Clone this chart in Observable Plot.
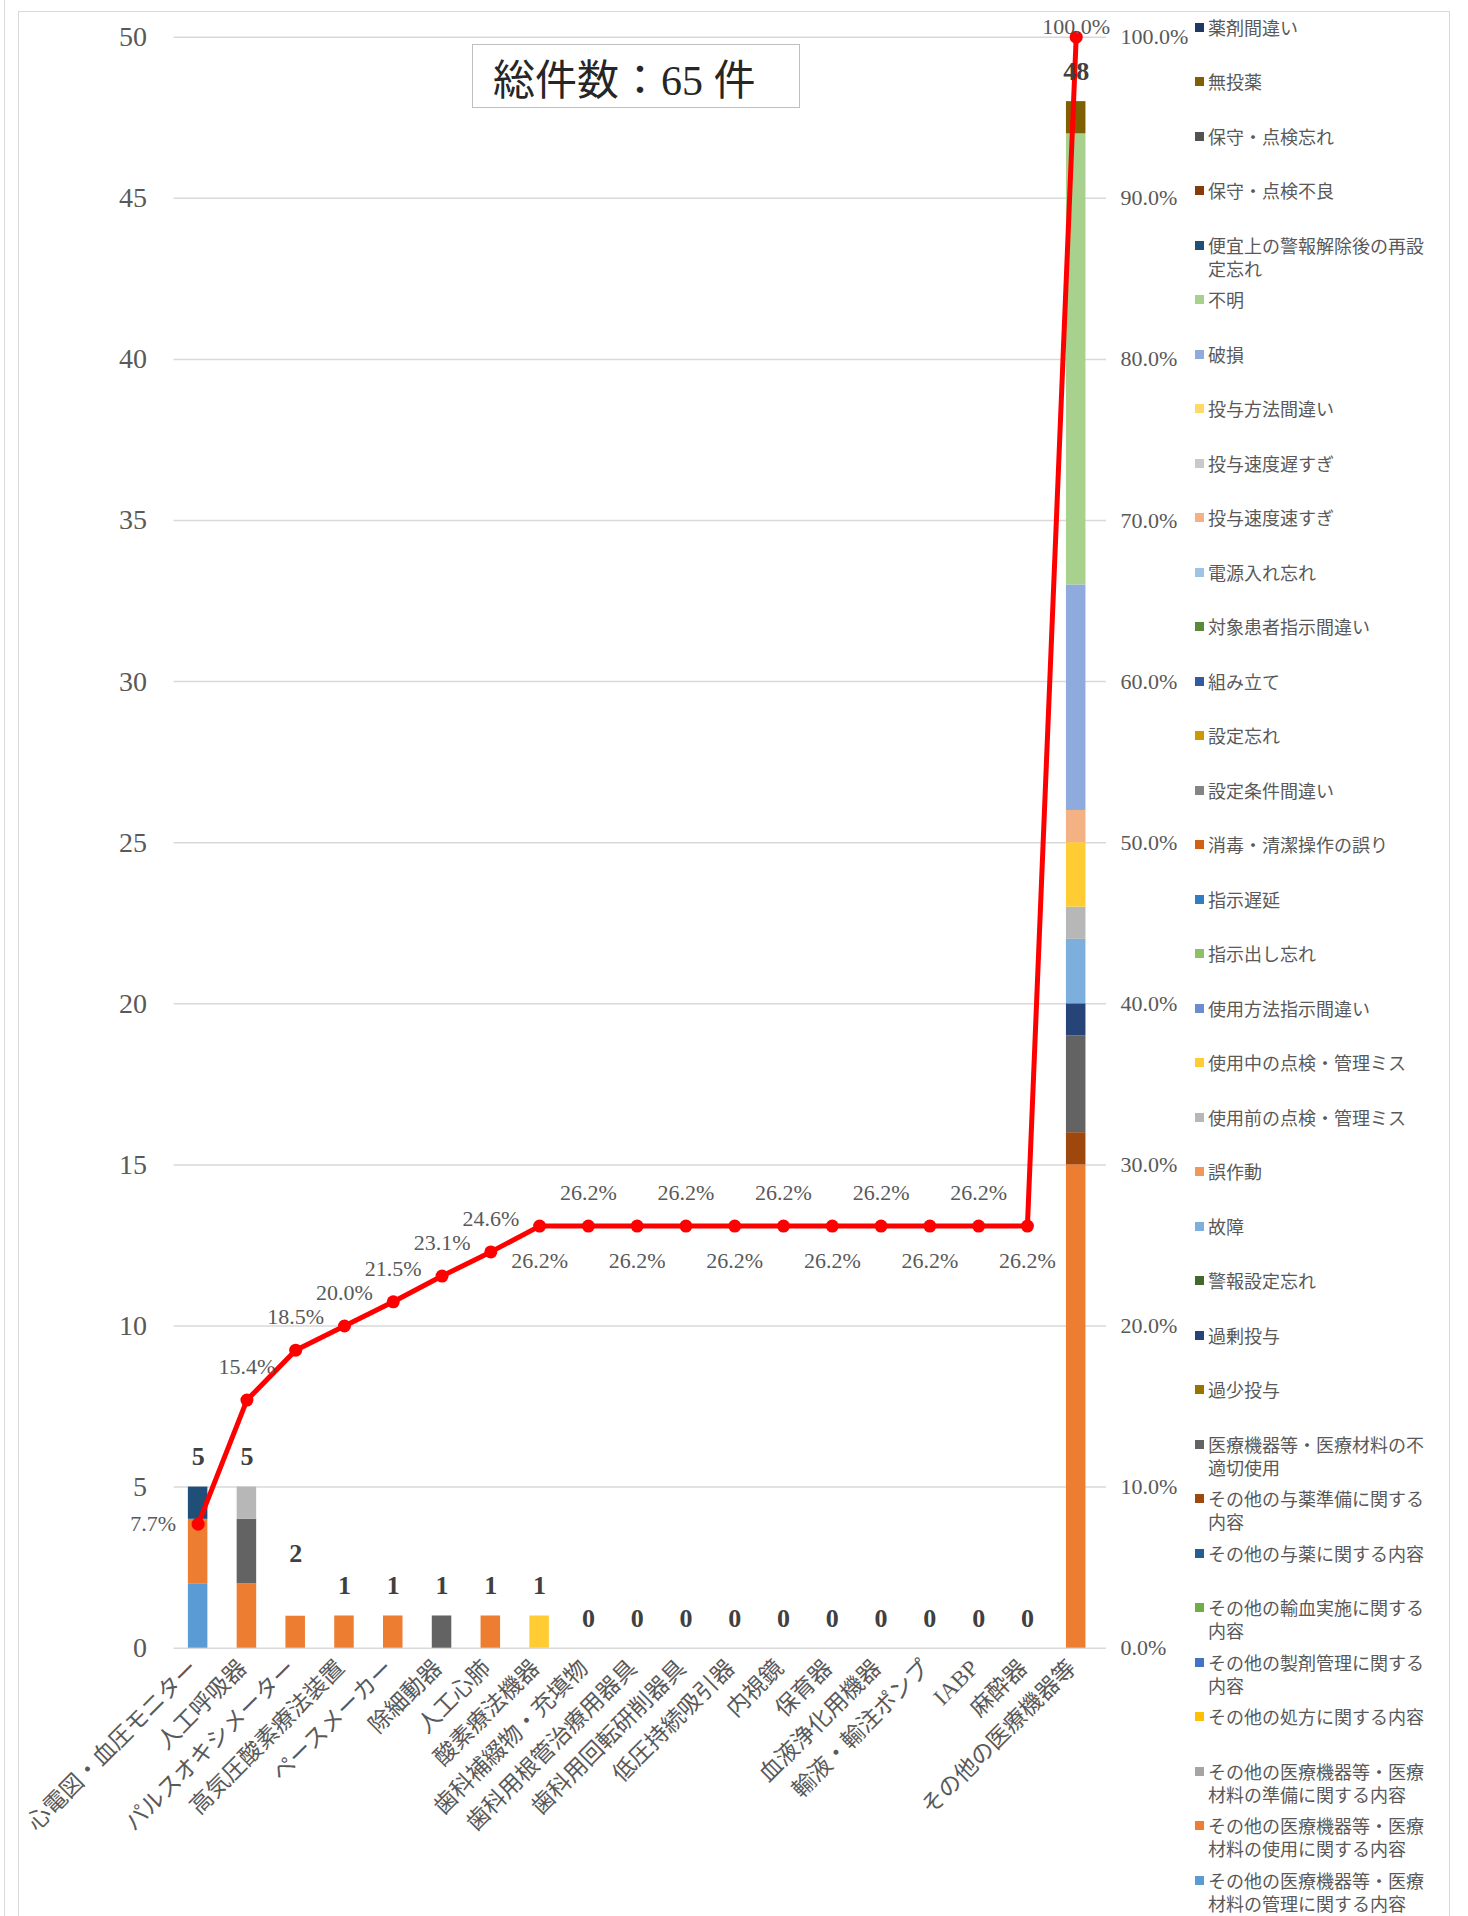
<!DOCTYPE html>
<html lang="ja">
<head>
<meta charset="utf-8">
<title>医療機器等 パレート図</title>
<script src="https://cdn.jsdelivr.net/npm/d3@7"></script>
<script src="https://cdn.jsdelivr.net/npm/@observablehq/plot@0.6"></script>
<style>
  body { margin: 0; background: #fff; }
  #wrap { position: relative; width: 1468px; height: 1916px; overflow: hidden; }
  .line-v { position: absolute; left: 4px; top: 0; width: 0; height: 1916px; border-left: 1.5px solid #d9d9d9; }
  .frame { position: absolute; left: 18px; top: 11px; width: 1432px; height: 1910px; border: 1.5px solid #d9d9d9; box-sizing: border-box; }
  #chart { position: absolute; left: 0; top: 0; }
  #total { position: absolute; left: 472px; top: 44px; width: 328px; height: 64px; border: 1.5px solid #bfbfbf;
           box-sizing: border-box; display: flex; align-items: center; justify-content: flex-start; padding-left: 20px;
           font-family: 'Liberation Serif', 'Noto Sans CJK JP', serif; font-size: 42px; color: #262626; background: #fff; }
  .item { position: absolute; left: 1195px; width: 218px; padding-left: 13px; font-family: 'Noto Sans CJK JP', sans-serif;
          font-size: 18px; line-height: 23px; color: #595959; }
  .swatch { position: absolute; left: 0; top: 7px; width: 9px; height: 9px; }
</style>
</head>
<body>
<div id="wrap">
  <div class="line-v"></div>
  <div class="frame"></div>
  <div id="chart"></div>
  <div id="total">総件数：65 件</div>
  <div id="legend"></div>
</div>
<script>
// 機器の種類（横軸）
const devices = [
  "心電図・血圧モニター", "人工呼吸器", "パルスオキシメーター", "高気圧酸素療法装置",
  "ペースメーカー", "除細動器", "人工心肺", "酸素療法機器", "歯科補綴物・充填物",
  "歯科用根管治療用器具", "歯科用回転研削器具", "低圧持続吸引器", "内視鏡", "保育器",
  "血液浄化用機器", "輸液・輸注ポンプ", "IABP", "麻酔器", "その他の医療機器等"
];

// 機器ごとの件数
const totals = [5, 5, 2, 1, 1, 1, 1, 1, 0, 0, 0, 0, 0, 0, 0, 0, 0, 0, 48];

// 累積比率（%）
const cumulativePct = [7.7, 15.4, 18.5, 20.0, 21.5, 23.1, 24.6, 26.2, 26.2, 26.2,
                       26.2, 26.2, 26.2, 26.2, 26.2, 26.2, 26.2, 26.2, 100.0];

// 事例の内容（積み上げ順：下から）
const causes = [
  "その他の医療機器等・医療材料の管理に関する内容",
  "その他の医療機器等・医療材料の使用に関する内容",
  "その他の医療機器等・医療材料の準備に関する内容",
  "その他の処方に関する内容",
  "その他の製剤管理に関する内容",
  "その他の輸血実施に関する内容",
  "その他の与薬に関する内容",
  "その他の与薬準備に関する内容",
  "医療機器等・医療材料の不適切使用",
  "過少投与",
  "過剰投与",
  "警報設定忘れ",
  "故障",
  "誤作動",
  "使用前の点検・管理ミス",
  "使用中の点検・管理ミス",
  "使用方法指示間違い",
  "指示出し忘れ",
  "指示遅延",
  "消毒・清潔操作の誤り",
  "設定条件間違い",
  "設定忘れ",
  "組み立て",
  "対象患者指示間違い",
  "電源入れ忘れ",
  "投与速度速すぎ",
  "投与速度遅すぎ",
  "投与方法間違い",
  "破損",
  "不明",
  "便宜上の警報解除後の再設定忘れ",
  "保守・点検不良",
  "保守・点検忘れ",
  "無投薬",
  "薬剤間違い"
];

const causeColors = [
  "#5B9BD5", "#ED7D31", "#A5A5A5", "#FFC000", "#4472C4", "#70AD47",
  "#255E91", "#9E480E", "#636363", "#997300", "#264478", "#43682B",
  "#7CAFDD", "#F1975A", "#B7B7B7", "#FFCD33", "#698ED0", "#8CC168",
  "#327DC2", "#D26012", "#848484", "#CC9A00", "#335AA1", "#5A8A39",
  "#9DC3E6", "#F4B183", "#C9C9C9", "#FFD966", "#8FAADC", "#A9D18E",
  "#1F4E79", "#843C0C", "#525252", "#7F6000", "#203864"
];

// 内容が記載されていない件数
const unlisted = "内容未記載";

// 機器 × 内容 の件数
const segments = [
  ["心電図・血圧モニター", "その他の医療機器等・医療材料の管理に関する内容", 2],
  ["心電図・血圧モニター", "その他の医療機器等・医療材料の使用に関する内容", 2],
  ["心電図・血圧モニター", "便宜上の警報解除後の再設定忘れ", 1],
  ["人工呼吸器", "その他の医療機器等・医療材料の使用に関する内容", 2],
  ["人工呼吸器", "医療機器等・医療材料の不適切使用", 2],
  ["人工呼吸器", "使用前の点検・管理ミス", 1],
  ["パルスオキシメーター", "その他の医療機器等・医療材料の使用に関する内容", 1],
  ["パルスオキシメーター", unlisted, 1],
  ["高気圧酸素療法装置", "その他の医療機器等・医療材料の使用に関する内容", 1],
  ["ペースメーカー", "その他の医療機器等・医療材料の使用に関する内容", 1],
  ["除細動器", "医療機器等・医療材料の不適切使用", 1],
  ["人工心肺", "その他の医療機器等・医療材料の使用に関する内容", 1],
  ["酸素療法機器", "使用中の点検・管理ミス", 1],
  ["その他の医療機器等", "その他の医療機器等・医療材料の使用に関する内容", 15],
  ["その他の医療機器等", "その他の与薬準備に関する内容", 1],
  ["その他の医療機器等", "医療機器等・医療材料の不適切使用", 3],
  ["その他の医療機器等", "過剰投与", 1],
  ["その他の医療機器等", "故障", 2],
  ["その他の医療機器等", "使用前の点検・管理ミス", 1],
  ["その他の医療機器等", "使用中の点検・管理ミス", 2],
  ["その他の医療機器等", "投与速度速すぎ", 1],
  ["その他の医療機器等", "破損", 7],
  ["その他の医療機器等", "不明", 14],
  ["その他の医療機器等", "無投薬", 1]
];

// 左軸の目盛り（件数）
const countTicks = [0, 5, 10, 15, 20, 25, 30, 35, 40, 45, 50];

// ---- 描画 ----
const countMax = 50;
const serif = "'Liberation Serif', 'Noto Sans CJK JP', serif";

const segmentRows = segments.map(([device, cause, count]) => ({device, cause, count}));
const totalRows = devices.map((device, i) => ({device, total: totals[i]}));
const paretoRows = devices.map((device, i) => ({device, i, pct: cumulativePct[i]}));
const pctToY = d => d.pct / 100 * countMax;
const pctText = d => d.pct.toFixed(1) + "%";

// 累積比率ラベルの置き場所
const last = devices.length - 1;
const placeLeft = d => d.i === 0;
const placeBelow = d => d.i >= 7 && d.i < last && (d.i - 7) % 2 === 0;
const placeTop = d => d.i === last;
const placeAbove = d => !placeLeft(d) && !placeBelow(d) && !placeTop(d);

const pctLabel = {x: "device", y: pctToY, text: pctText, fontSize: 22, fill: "#595959", fontFamily: serif};

const chart = Plot.plot({
  width: 1468,
  height: 1916,
  marginLeft: 173.6,
  marginRight: 362,
  marginTop: 36.7,
  marginBottom: 268.3,
  style: {background: "none", color: "#595959", fontFamily: serif, overflow: "visible"},
  x: {domain: devices, paddingInner: 0.6, paddingOuter: 0.357, align: 0.41, round: false},
  y: {domain: [0, countMax]},
  color: {type: "ordinal", domain: [...causes, unlisted], range: [...causeColors, "#ffffff"]},
  marks: [
    Plot.gridY(countTicks, {stroke: "#d9d9d9", strokeOpacity: 1, strokeWidth: 1.5}),
    Plot.axisY(countTicks, {anchor: "left", tickSize: 0, tickPadding: 27, fontSize: 28, label: null}),
    Plot.axisY(countTicks, {anchor: "right", tickSize: 0, tickPadding: 14, fontSize: 22, label: null,
                            tickFormat: d => (d / countMax * 100).toFixed(1) + "%"}),
    Plot.axisX({tickRotate: -45, tickSize: 0, tickPadding: 16, fontSize: 23, dx: -4, label: null}),
    Plot.barY(segmentRows, Plot.stackY({x: "device", y: "count", fill: "cause", order: [...causes, unlisted]})),
    Plot.line(paretoRows, {x: "device", y: pctToY, stroke: "#FF0000", strokeWidth: 5}),
    Plot.dot(paretoRows, {x: "device", y: pctToY, r: 6.5, fill: "#FF0000"}),
    Plot.text(totalRows, {x: "device", y: "total", text: d => String(d.total), dy: -30,
                          fontSize: 26, fontWeight: "bold", fill: "#404040", fontFamily: serif}),
    Plot.text(paretoRows, {...pctLabel, filter: placeLeft, textAnchor: "end", dx: -22}),
    Plot.text(paretoRows, {...pctLabel, filter: placeAbove, dy: -33}),
    Plot.text(paretoRows, {...pctLabel, filter: placeBelow, dy: 35}),
    Plot.text(paretoRows, {...pctLabel, filter: placeTop, dy: -10})
  ]
});
document.getElementById("chart").appendChild(chart);

// 凡例（上から積み上げの逆順）
const legend = document.getElementById("legend");
causes.slice().reverse().forEach((name, k) => {
  const color = causeColors[causes.indexOf(name)];
  const item = document.createElement("div");
  item.className = "item";
  item.style.top = (27 + k * 54.5 - 11.5) + "px";
  const sw = document.createElement("span");
  sw.className = "swatch";
  sw.style.background = color;
  item.appendChild(sw);
  item.appendChild(document.createTextNode(name));
  legend.appendChild(item);
});
</script>
</body>
</html>
